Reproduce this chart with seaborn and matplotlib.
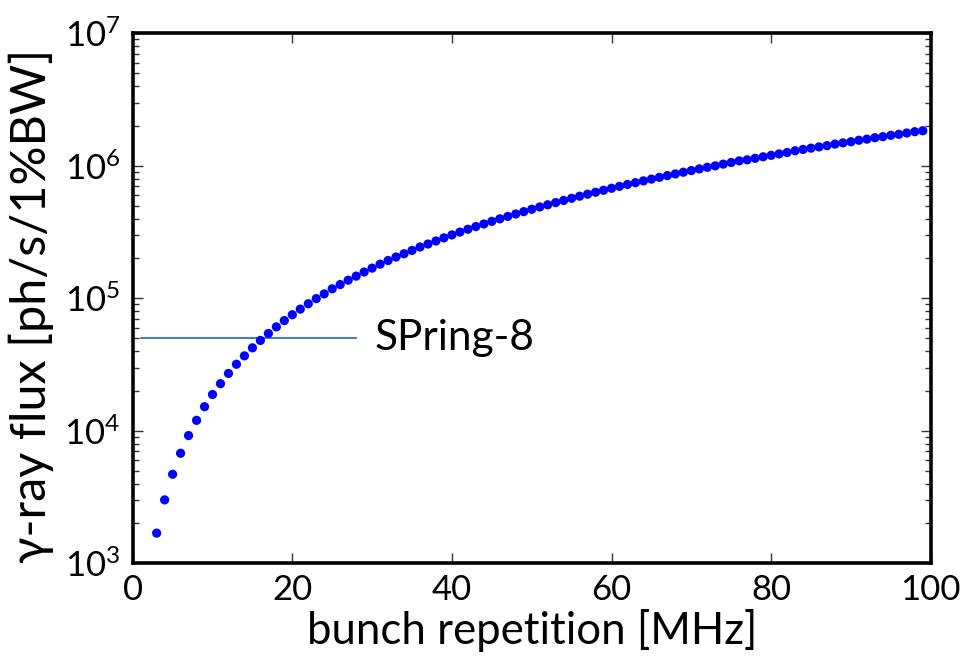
import math
import matplotlib
matplotlib.use("Agg")
import matplotlib.pyplot as plt
import matplotlib.ticker as mticker
import seaborn as sns
import pandas as pd

# bunch repetition [MHz]
rep_mhz = list(range(3, 100))
# gamma-ray flux [ph/s/1%BW]
flux = [
    1690, 3010, 4700, 6770, 9210, 12000, 15200, 18800, 22700, 27100,
    31800, 36800, 42300, 48100, 54300, 60900, 67900, 75200, 82900, 91000,
    99500, 108000, 118000, 127000, 137000, 147000, 158000, 169000, 181000, 193000,
    205000, 217000, 230000, 244000, 257000, 271000, 286000, 301000, 316000, 332000,
    348000, 364000, 381000, 398000, 415000, 433000, 451000, 470000, 489000, 508000,
    528000, 548000, 569000, 590000, 611000, 632000, 654000, 677000, 700000, 723000,
    746000, 770000, 794000, 819000, 844000, 869000, 895000, 921000, 948000, 975000,
    1.00e6, 1.03e6, 1.06e6, 1.09e6, 1.11e6, 1.14e6, 1.17e6, 1.20e6, 1.23e6, 1.26e6,
    1.30e6, 1.33e6, 1.36e6, 1.39e6, 1.42e6, 1.46e6, 1.49e6, 1.52e6, 1.56e6, 1.59e6,
    1.63e6, 1.66e6, 1.70e6, 1.73e6, 1.77e6, 1.81e6, 1.84e6,
]
# SPring-8 reference level
spring8_x = [1, 28]
spring8_y = [5.0e4, 5.0e4]
spring8_label = "SPring-8"

x_ticks = [0, 20, 40, 60, 80, 100]
y_ticks = [1e3, 1e4, 1e5, 1e6, 1e7]

sns.set_style("ticks")
fonts = ["Lato", "DejaVu Sans"]
plt.rcParams["font.family"] = fonts
plt.rcParams["mathtext.fontset"] = "custom"
plt.rcParams["mathtext.rm"] = "Lato"
plt.rcParams["text.color"] = "black"
plt.rcParams["axes.labelcolor"] = "black"
plt.rcParams["xtick.color"] = "black"
plt.rcParams["ytick.color"] = "black"

df = pd.DataFrame({"rep": rep_mhz, "flux": flux})
line_df = pd.DataFrame({"x": spring8_x, "y": spring8_y})

fig = plt.figure(figsize=(9.63, 6.60), dpi=100)
ax = fig.add_axes([0.1378, 0.1465, 0.8287, 0.803])

sns.lineplot(data=line_df, x="x", y="y", ax=ax, color="#4a7ebb", linewidth=1.5)
sns.scatterplot(data=df, x="rep", y="flux", ax=ax, color="#0000ff",
                s=44, edgecolor="none", linewidth=0, zorder=3)

ax.set_yscale("log")
ax.set_xlim(0, 100)
ax.set_ylim(1e3, 1e7)
ax.set_xticks(x_ticks)
ax.set_yticks(y_ticks)
ax.yaxis.set_major_formatter(mticker.FuncFormatter(
    lambda v, p: r"$\mathregular{10^{%d}}$" % round(math.log10(v))))
ax.yaxis.set_minor_locator(mticker.LogLocator(base=10, subs=range(2, 10)))
ax.yaxis.set_minor_formatter(mticker.NullFormatter())

for s in ax.spines.values():
    s.set_linewidth(2.6)
    s.set_color("black")
    s.set_visible(True)

ax.tick_params(which="major", direction="in", length=7, width=1,
               top=True, right=True, labelsize=25, color="#333333",
               labelcolor="black")
ax.tick_params(axis="y", which="major", pad=9)
ax.tick_params(axis="x", which="major", pad=8)
ax.tick_params(which="minor", direction="in", length=4, width=1,
               left=True, right=True, color="#333333")

ax.set_xlabel("bunch repetition [MHz]", fontsize=31.5, labelpad=2)
ax.set_ylabel("γ-ray flux [ph/s/1%BW]", fontsize=35)
ax.yaxis.set_label_coords(-0.098, 0.485)

ax.text(30.3, 5.0e4, spring8_label, fontsize=30.5, va="center", ha="left")

fig.savefig("out.png", dpi=100)
